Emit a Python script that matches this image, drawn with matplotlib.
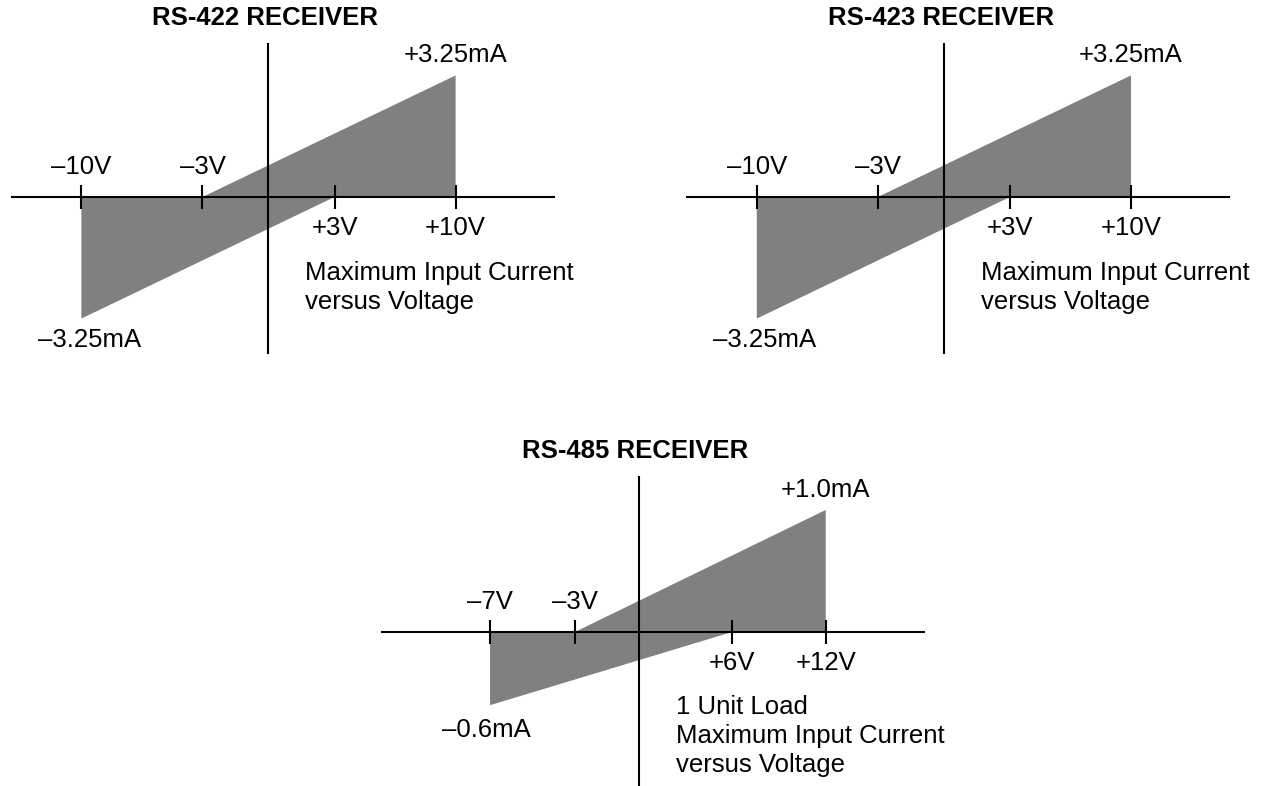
import numpy as np
import matplotlib
matplotlib.use('Agg')
import matplotlib.pyplot as plt

plt.rcParams['font.family'] = ['Liberation Sans', 'DejaVu Sans']

# datos de cada receptor: tension (V) y corriente maxima (mA)
titulos = ['RS-422 RECEIVER', 'RS-423 RECEIVER', 'RS-485 RECEIVER']
v_min = [-10, -10, -7]   # extremo izquierdo de la zona
v_neg = [-3, -3, -3]     # donde empieza la recta superior
v_pos = [3, 3, 6]        # donde termina la recta inferior
v_max = [10, 10, 12]     # extremo derecho de la zona
i_min = [-3.25, -3.25, -0.6]
i_max = [3.25, 3.25, 1.0]

etiq_v = [['–10V', '–3V', '+3V', '+10V'],
          ['–10V', '–3V', '+3V', '+10V'],
          ['–7V', '–3V', '+6V', '+12V']]
etiq_i = [['–3.25mA', '+3.25mA'],
          ['–3.25mA', '+3.25mA'],
          ['–0.6mA', '+1.0mA']]
notas = [['Maximum Input Current', 'versus Voltage'],
         ['Maximum Input Current', 'versus Voltage'],
         ['1 Unit Load', 'Maximum Input Current', 'versus Voltage']]


def escala(p, neg):
    # el dibujo original no esta a escala: comprime los extremos
    def fwd(v):
        v = np.asarray(v, dtype=float)
        return np.sign(v) * np.abs(v) ** p * np.where(v < 0, neg, 1.0)

    def inv(u):
        u = np.asarray(u, dtype=float)
        return np.sign(u) * (np.abs(u) / np.where(u < 0, neg, 1.0)) ** (1 / p)
    return fwd, inv


W, H = 1265, 786
fig = plt.figure(figsize=(W / 100, H / 100), dpi=100)

# caja de cada grafico en pixeles: izquierda, arriba, ancho, alto
cajas = [(12, 44, 542, 309), (687.4, 44, 542, 309), (382.5, 477, 541.5, 308)]
limx = [(-14.4, 16.3), (-14.4, 16.3), (-12.07, 18.3)]
limy = [(-4.17, 4.09), (-4.17, 4.09), (-1.254, 1.27)]
escalas = [escala(0.865, 1.0), escala(0.865, 1.0), escala(1.0, 1.36)]
off_min = [(8, -21), (8, -21), (-4, -25)]

fs = 18.5
gris = '#808080'

for k in range(3):
    x0, y0, w, h = cajas[k]
    ax = fig.add_axes([x0 / W, 1 - (y0 + h) / H, w / W, h / H])
    ax.set_xscale('function', functions=escalas[k])
    ax.set_xlim(*limx[k])
    ax.set_ylim(*limy[k])
    ax.patch.set_alpha(0)

    # zona sombreada entre las dos rectas
    xs = [v_min[k], v_min[k], v_neg[k], v_max[k], v_max[k], v_pos[k]]
    ys = [i_min[k], 0, 0, i_max[k], 0, 0]
    ax.fill(xs, ys, color=gris, lw=0, zorder=1)

    for s in ['top', 'right']:
        ax.spines[s].set_visible(False)
    for s in ['left', 'bottom']:
        ax.spines[s].set_position('zero')
        ax.spines[s].set_linewidth(1.5)
        ax.spines[s].set_zorder(3)

    ticks = [v_min[k], v_neg[k], v_pos[k], v_max[k]]
    ax.set_xticks(ticks)
    ax.minorticks_off()
    ax.set_yticks([])
    ax.tick_params(axis='x', direction='inout', length=17.3, width=1.5,
                   labelbottom=False)

    for j, (v, t) in enumerate(zip(ticks, etiq_v[k])):
        dy = 30 if v < 0 else -31
        ax.annotate(t, xy=(v, 0), xytext=(0, dy), textcoords='offset pixels',
                    ha='center', va='center', fontsize=fs)

    ax.annotate(etiq_i[k][1], xy=(v_max[k], i_max[k]), xytext=(0, 20),
                textcoords='offset pixels', ha='center', va='center', fontsize=fs)
    ax.annotate(etiq_i[k][0], xy=(v_min[k], i_min[k]), xytext=off_min[k],
                textcoords='offset pixels', ha='center', va='center', fontsize=fs)

    for j, linea in enumerate(notas[k]):
        ax.annotate(linea, xy=(0, 0), xytext=(37, -75.5 - 29 * j),
                    textcoords='offset pixels', ha='left', va='center', fontsize=fs)

    ax.annotate(titulos[k], xy=(0, 1), xycoords=('data', 'axes fraction'),
                xytext=(-3, 26), textcoords='offset pixels', ha='center',
                va='center', fontsize=fs, fontweight='bold')

fig.savefig('out.png', dpi=100, facecolor='white')
